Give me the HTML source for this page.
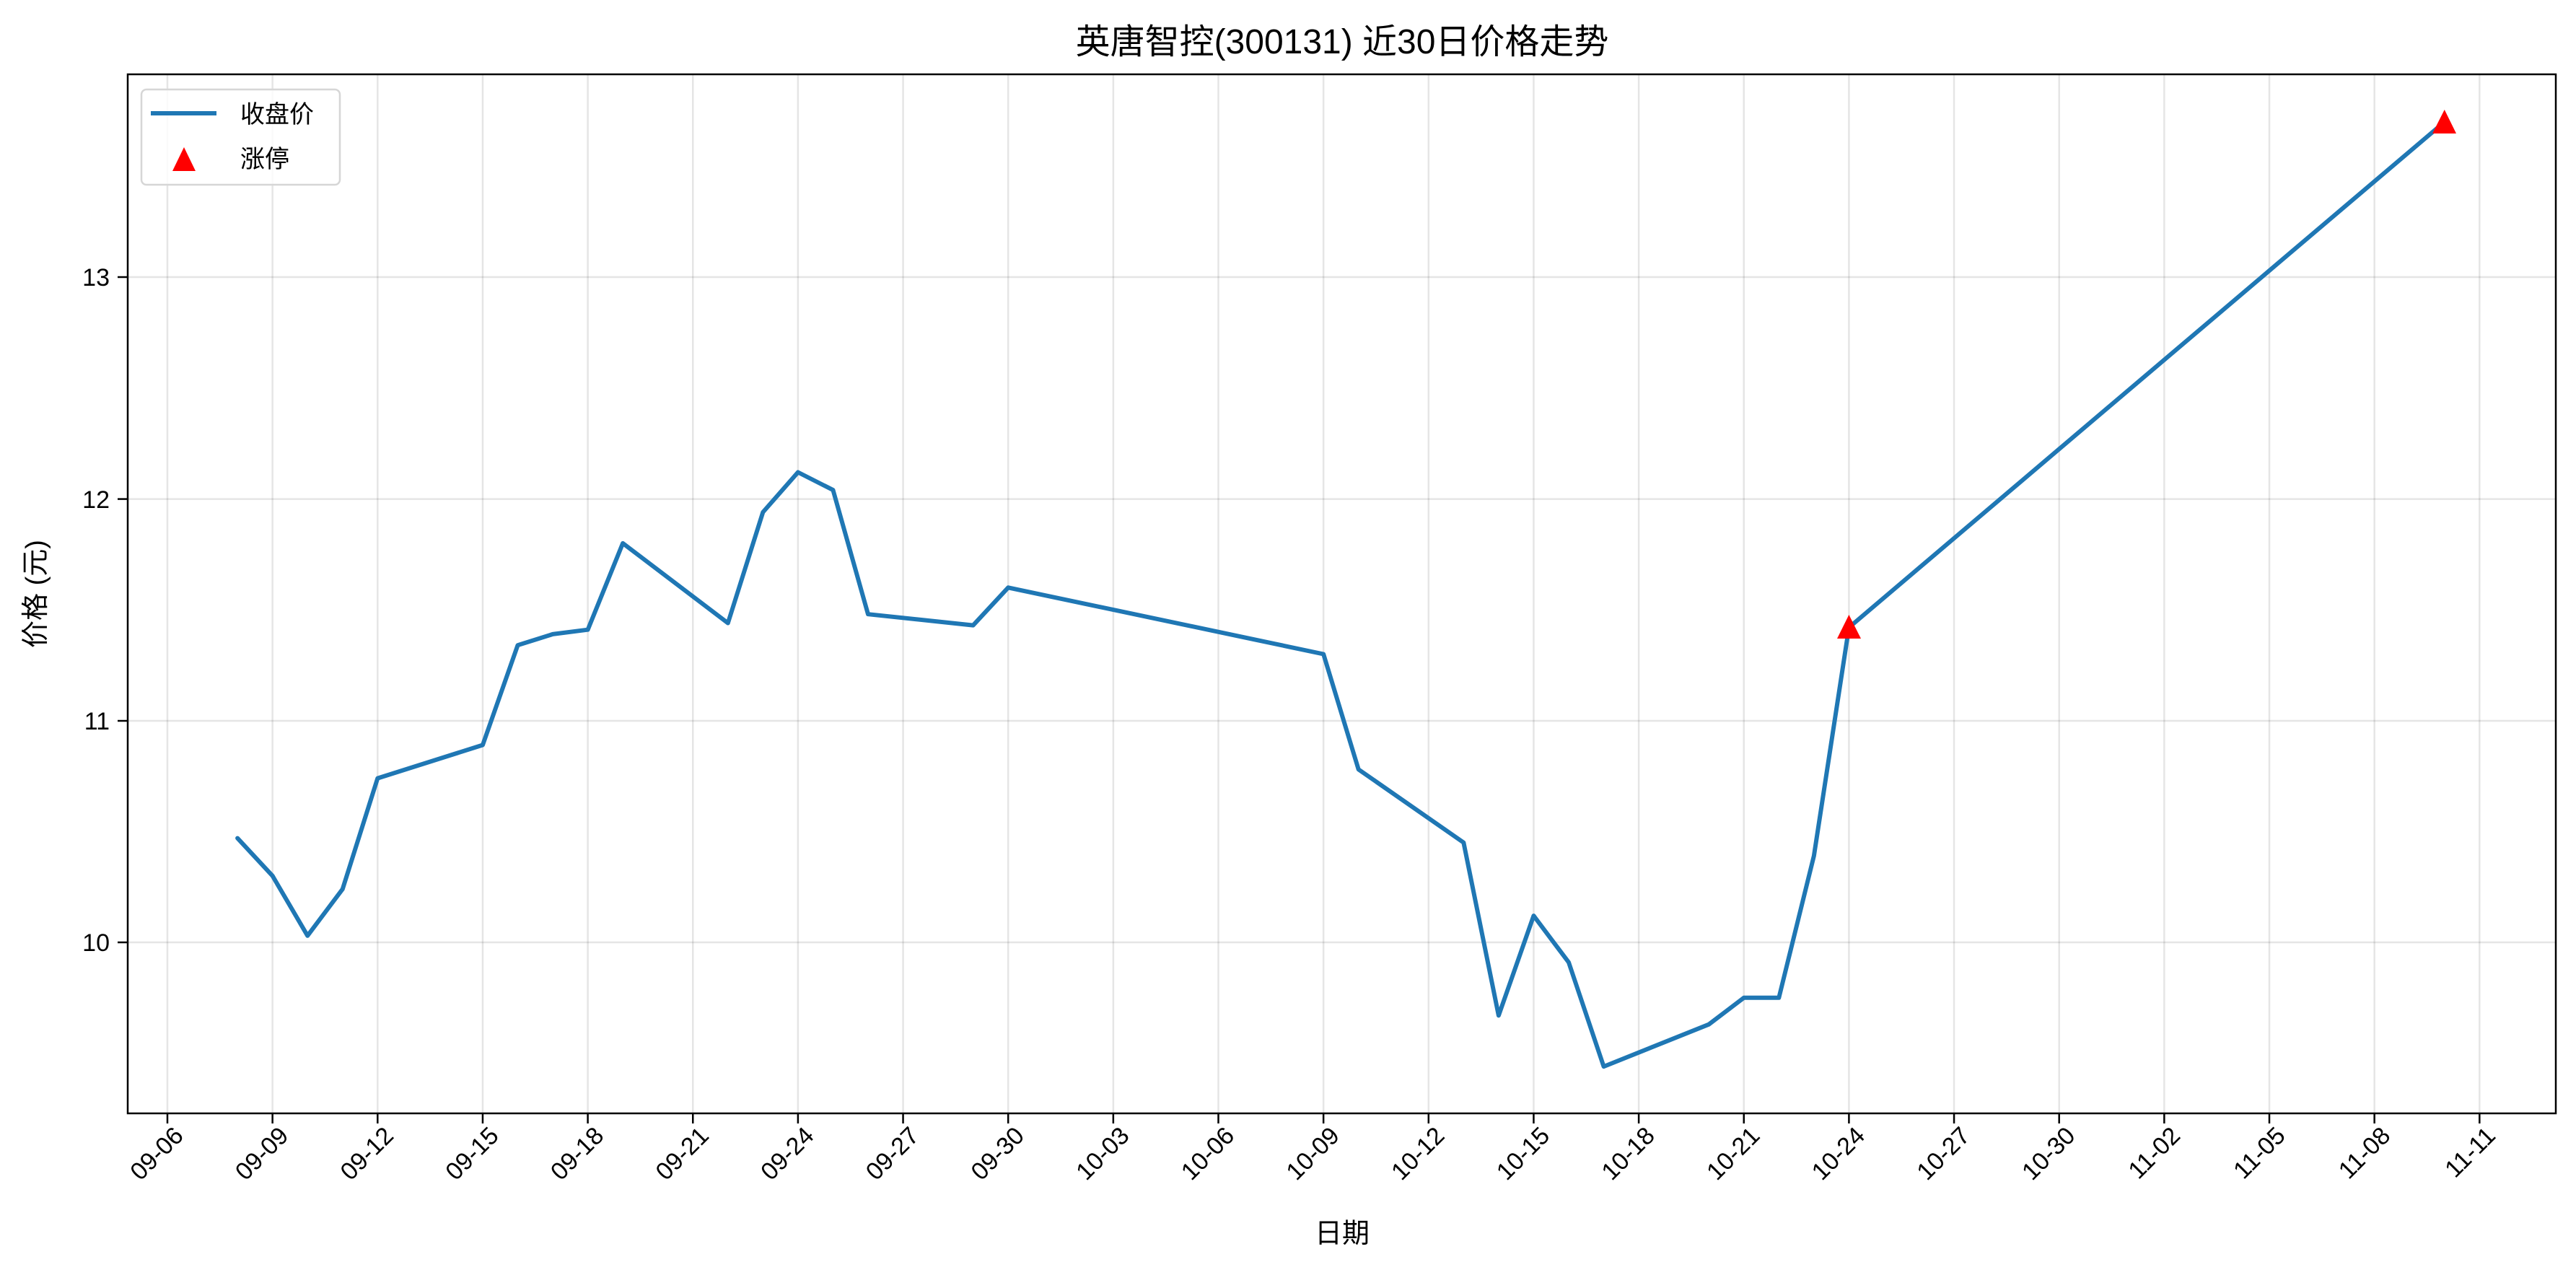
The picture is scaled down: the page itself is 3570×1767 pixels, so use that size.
<!DOCTYPE html>
<html><head><meta charset="utf-8"><style>
html,body{margin:0;padding:0;background:#fff;}
svg{display:block;}
text{font-family:"Liberation Sans","Noto Sans CJK SC",sans-serif;fill:#000;}
</style></head><body>
<svg width="3570" height="1767" viewBox="0 0 3570 1767" xmlns="http://www.w3.org/2000/svg">
<rect width="3570" height="1767" fill="#fff"/>
<g stroke="#000" stroke-opacity="0.1" stroke-width="2.5">
<line x1="232" y1="103" x2="232" y2="1543"/><line x1="377.65" y1="103" x2="377.65" y2="1543"/><line x1="523.3" y1="103" x2="523.3" y2="1543"/><line x1="668.95" y1="103" x2="668.95" y2="1543"/><line x1="814.6" y1="103" x2="814.6" y2="1543"/><line x1="960.25" y1="103" x2="960.25" y2="1543"/><line x1="1105.9" y1="103" x2="1105.9" y2="1543"/><line x1="1251.55" y1="103" x2="1251.55" y2="1543"/><line x1="1397.2" y1="103" x2="1397.2" y2="1543"/><line x1="1542.85" y1="103" x2="1542.85" y2="1543"/><line x1="1688.5" y1="103" x2="1688.5" y2="1543"/><line x1="1834.15" y1="103" x2="1834.15" y2="1543"/><line x1="1979.8" y1="103" x2="1979.8" y2="1543"/><line x1="2125.45" y1="103" x2="2125.45" y2="1543"/><line x1="2271.1" y1="103" x2="2271.1" y2="1543"/><line x1="2416.75" y1="103" x2="2416.75" y2="1543"/><line x1="2562.4" y1="103" x2="2562.4" y2="1543"/><line x1="2708.05" y1="103" x2="2708.05" y2="1543"/><line x1="2853.7" y1="103" x2="2853.7" y2="1543"/><line x1="2999.35" y1="103" x2="2999.35" y2="1543"/><line x1="3145" y1="103" x2="3145" y2="1543"/><line x1="3290.65" y1="103" x2="3290.65" y2="1543"/><line x1="3436.3" y1="103" x2="3436.3" y2="1543"/>
<line x1="177" y1="1306" x2="3542" y2="1306"/><line x1="177" y1="999" x2="3542" y2="999"/><line x1="177" y1="691.6" x2="3542" y2="691.6"/><line x1="177" y1="384" x2="3542" y2="384"/>
</g>
<polyline fill="none" stroke="#1f77b4" stroke-width="6" stroke-linejoin="round" stroke-linecap="round" points="329.1,1161.6 377.65,1213.8 426.2,1296.8 474.75,1232.2 523.3,1078.6 668.95,1032.5 717.5,894.2 766.05,878.9 814.6,872.7 863.15,752.9 1008.8,863.5 1057.35,709.8 1105.9,654.5 1154.45,679.1 1203,851.2 1348.65,866.6 1397.2,814.3 1834.15,906.5 1882.7,1066.3 2028.35,1167.7 2076.9,1407.4 2125.45,1269.1 2174,1333.7 2222.55,1478.1 2368.2,1419.7 2416.75,1382.8 2465.3,1382.8 2513.85,1186.2 2562.4,869.6 3387.75,169"/>
<polygon fill="#f00" points="2562.4,852 2546,885 2579,885"/>
<polygon fill="#f00" points="3387.75,152 3371,185 3404,185"/>
<rect x="177" y="103" width="3365" height="1440" fill="none" stroke="#000" stroke-width="2.5"/>
<g stroke="#000" stroke-width="2.5">
<line x1="232" y1="1543" x2="232" y2="1557"/><line x1="377.65" y1="1543" x2="377.65" y2="1557"/><line x1="523.3" y1="1543" x2="523.3" y2="1557"/><line x1="668.95" y1="1543" x2="668.95" y2="1557"/><line x1="814.6" y1="1543" x2="814.6" y2="1557"/><line x1="960.25" y1="1543" x2="960.25" y2="1557"/><line x1="1105.9" y1="1543" x2="1105.9" y2="1557"/><line x1="1251.55" y1="1543" x2="1251.55" y2="1557"/><line x1="1397.2" y1="1543" x2="1397.2" y2="1557"/><line x1="1542.85" y1="1543" x2="1542.85" y2="1557"/><line x1="1688.5" y1="1543" x2="1688.5" y2="1557"/><line x1="1834.15" y1="1543" x2="1834.15" y2="1557"/><line x1="1979.8" y1="1543" x2="1979.8" y2="1557"/><line x1="2125.45" y1="1543" x2="2125.45" y2="1557"/><line x1="2271.1" y1="1543" x2="2271.1" y2="1557"/><line x1="2416.75" y1="1543" x2="2416.75" y2="1557"/><line x1="2562.4" y1="1543" x2="2562.4" y2="1557"/><line x1="2708.05" y1="1543" x2="2708.05" y2="1557"/><line x1="2853.7" y1="1543" x2="2853.7" y2="1557"/><line x1="2999.35" y1="1543" x2="2999.35" y2="1557"/><line x1="3145" y1="1543" x2="3145" y2="1557"/><line x1="3290.65" y1="1543" x2="3290.65" y2="1557"/><line x1="3436.3" y1="1543" x2="3436.3" y2="1557"/>
<line x1="163" y1="1306" x2="177" y2="1306"/><line x1="163" y1="999" x2="177" y2="999"/><line x1="163" y1="691.6" x2="177" y2="691.6"/><line x1="163" y1="384" x2="177" y2="384"/>
</g>
<g font-size="34" text-anchor="end">
<text x="152" y="1318">10</text><text x="152" y="1011">11</text><text x="152" y="704">12</text><text x="152" y="396">13</text>
</g>
<g font-size="34" text-anchor="end">
<text transform="translate(256,1576) rotate(-45)">09-06</text>
<text transform="translate(401.65,1576) rotate(-45)">09-09</text>
<text transform="translate(547.3,1576) rotate(-45)">09-12</text>
<text transform="translate(692.95,1576) rotate(-45)">09-15</text>
<text transform="translate(838.6,1576) rotate(-45)">09-18</text>
<text transform="translate(984.25,1576) rotate(-45)">09-21</text>
<text transform="translate(1129.9,1576) rotate(-45)">09-24</text>
<text transform="translate(1275.55,1576) rotate(-45)">09-27</text>
<text transform="translate(1421.2,1576) rotate(-45)">09-30</text>
<text transform="translate(1566.85,1576) rotate(-45)">10-03</text>
<text transform="translate(1712.5,1576) rotate(-45)">10-06</text>
<text transform="translate(1858.15,1576) rotate(-45)">10-09</text>
<text transform="translate(2003.8,1576) rotate(-45)">10-12</text>
<text transform="translate(2149.45,1576) rotate(-45)">10-15</text>
<text transform="translate(2295.1,1576) rotate(-45)">10-18</text>
<text transform="translate(2440.75,1576) rotate(-45)">10-21</text>
<text transform="translate(2586.4,1576) rotate(-45)">10-24</text>
<text transform="translate(2732.05,1576) rotate(-45)">10-27</text>
<text transform="translate(2877.7,1576) rotate(-45)">10-30</text>
<text transform="translate(3023.35,1576) rotate(-45)">11-02</text>
<text transform="translate(3169,1576) rotate(-45)">11-05</text>
<text transform="translate(3314.65,1576) rotate(-45)">11-08</text>
<text transform="translate(3460.3,1576) rotate(-45)">11-11</text>
</g>
<text x="1860" y="1722" font-size="38" text-anchor="middle">日期</text>
<text transform="translate(62,823) rotate(-90)" font-size="38" text-anchor="middle">价格 (元)</text>
<text x="1860" y="74" font-size="48" text-anchor="middle">英唐智控(300131) 近30日价格走势</text>
<rect x="196" y="124" width="275" height="132" rx="7" fill="#fff" fill-opacity="0.8" stroke="#d6d6d6" stroke-width="2.5"/>
<line x1="209" y1="157" x2="300" y2="157" stroke="#1f77b4" stroke-width="6"/>
<polygon fill="#f00" points="255,204 239,237 271,237"/>
<g font-size="34"><text x="333" y="170">收盘价</text><text x="333" y="232">涨停</text></g>
</svg>
</body></html>
